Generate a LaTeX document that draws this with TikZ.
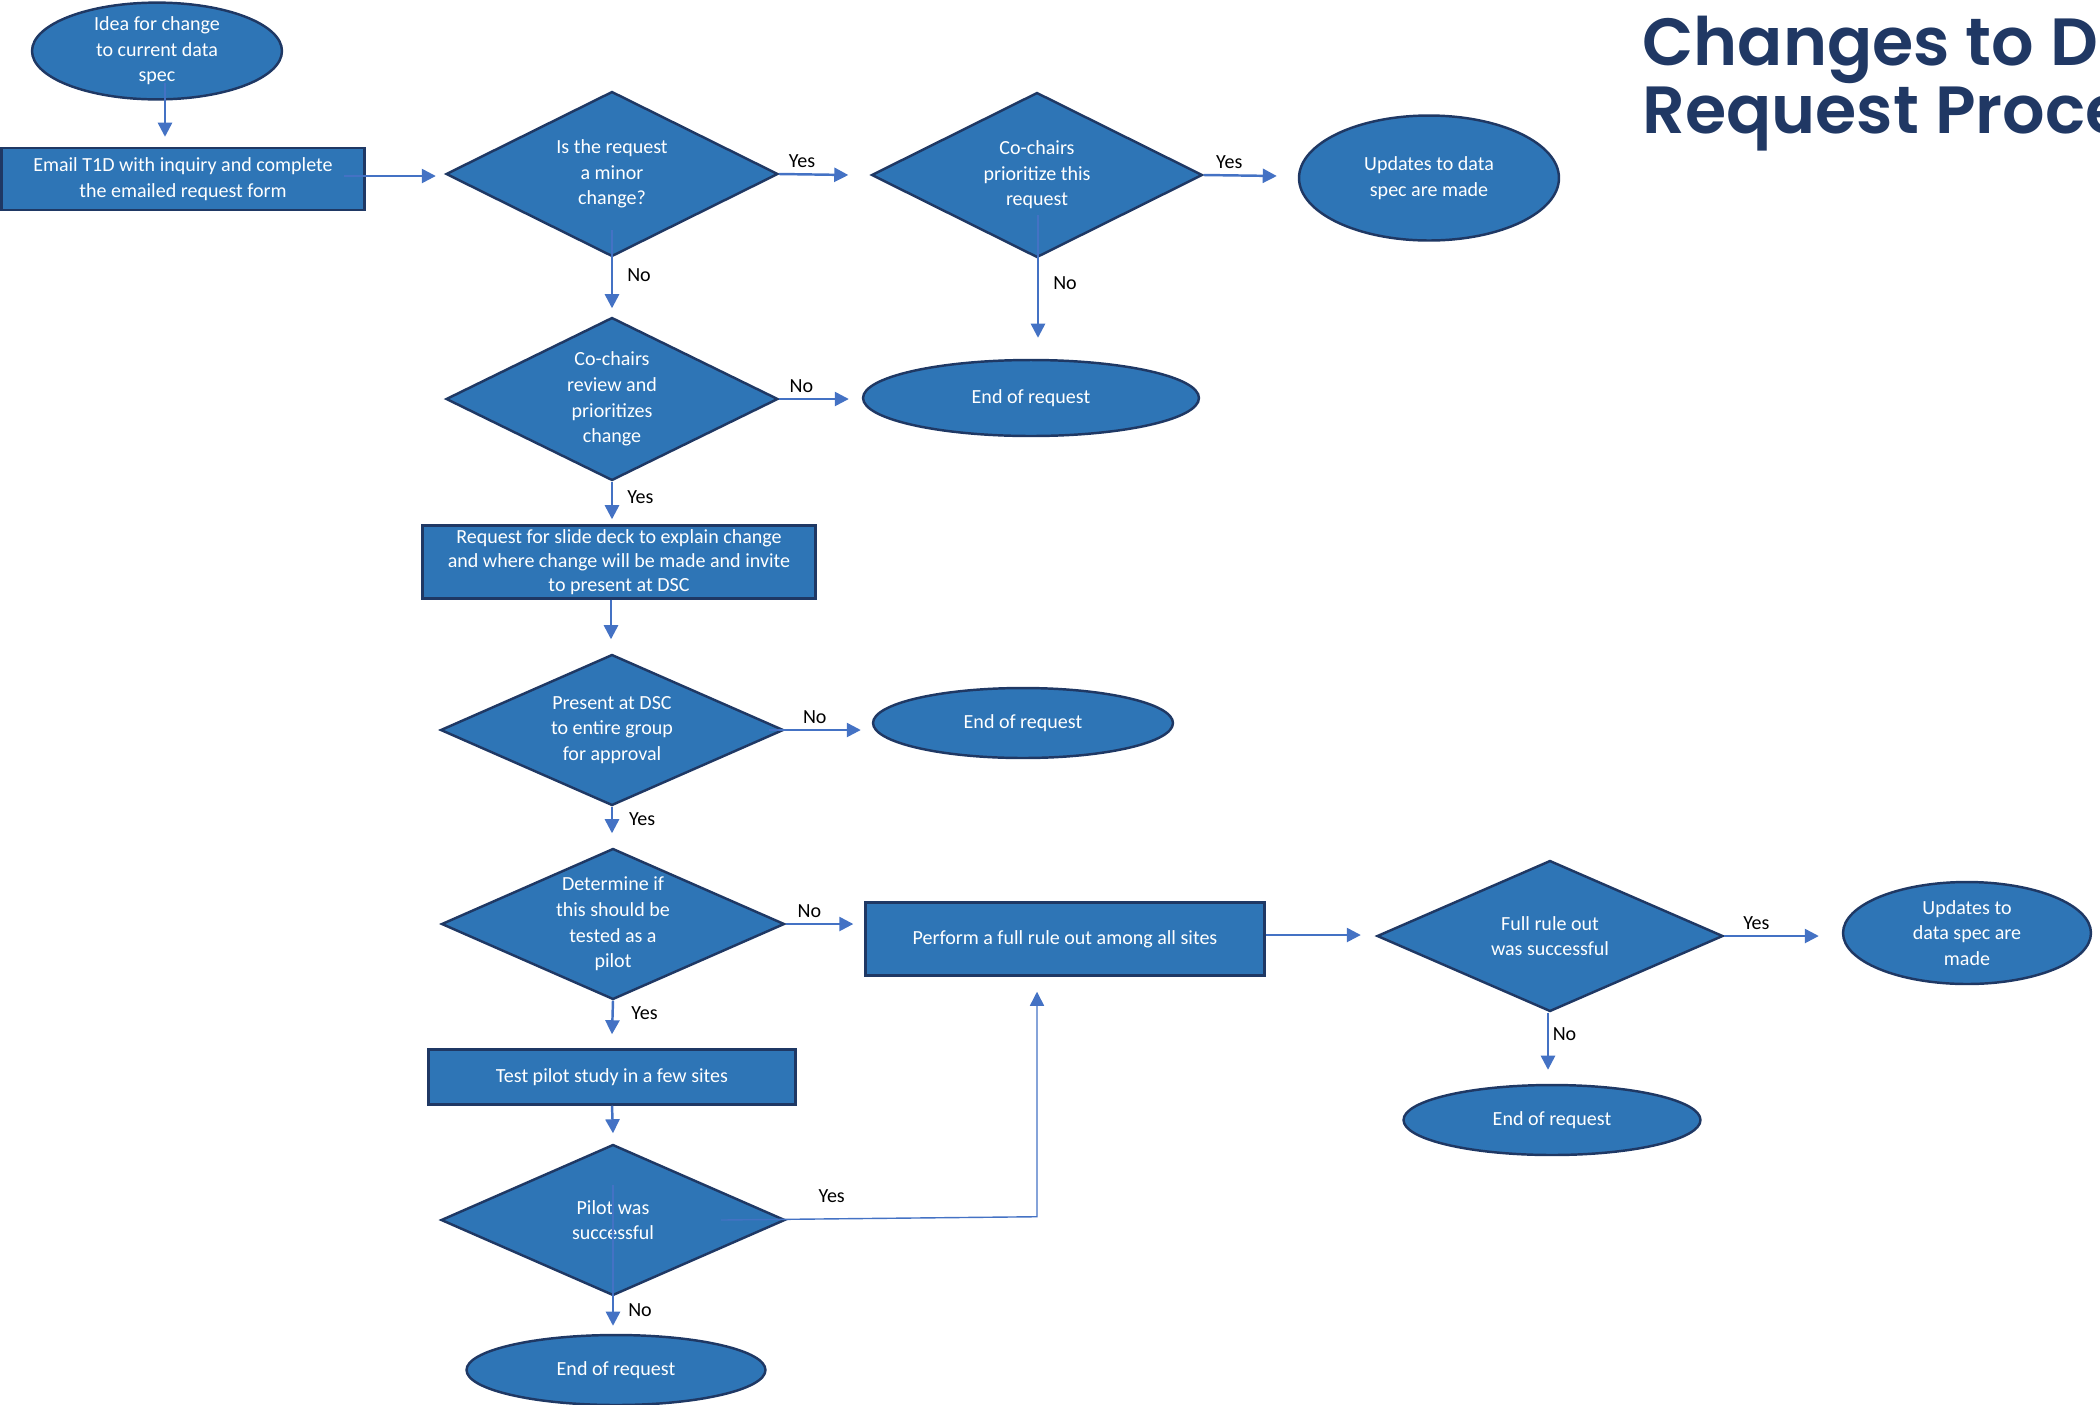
\documentclass[tikz,border=0pt]{standalone}
\usepackage{fontspec}
\setmainfont{Carlito}
\IfFontExistsTF{Poppins SemiBold}
  {\newfontfamily\titlefont{Poppins SemiBold}\newcommand\titleweight{}}
  {\newfontfamily\titlefont{Poppins}\newcommand\titleweight{\bfseries}}
\usetikzlibrary{positioning,arrows.meta,calc,shapes.geometric}
\definecolor{boxBlue}{HTML}{2E75B6}
\definecolor{edgeNavy}{HTML}{1F3864}
\definecolor{arrowBlue}{HTML}{4472C4}
\definecolor{titleNavy}{HTML}{203864}

\tikzset{
  flowtext/.style={text=white,font=\fontsize{11.4}{14.6}\selectfont,align=center,inner sep=0pt},
  decision/.style={diamond,aspect=2.2,draw=edgeNavy,fill=boxBlue,line width=1.4pt,flowtext},
  terminal/.style={ellipse,draw=edgeNavy,fill=boxBlue,line width=1.4pt,flowtext},
  process/.style={rectangle,draw=edgeNavy,fill=boxBlue,line width=1.4pt,flowtext},
  flow/.style={draw=arrowBlue,line width=1.4pt,-{Triangle[length=8pt,width=8pt]}},
  answer/.style={font=\fontsize{11.4}{13}\selectfont,text=black,inner sep=1pt},
  heading/.style={anchor=base west,inner sep=0pt,text=titleNavy,
    font=\titlefont\fontsize{38}{40}\selectfont\titleweight}
}

\begin{document}
\begin{tikzpicture}[x=0.02cm,y=-0.02cm]
\useasboundingbox (0,0) rectangle (2100,1404);
\clip (0,0) rectangle (2100,1404);

% title
\node[heading] (title) at (1642,65) {Changes to Data};
\node[heading] (title2) at (1642,133) {Request Process};

% first column
\node[terminal,minimum width=5cm,minimum height=1.88cm] (idea) at (157,51) {Idea for change\\to current data\\spec};
\node[process,minimum width=7.26cm,minimum height=1.24cm] (email) at (183,179) {Email T1D with inquiry and complete\\the emailed request form};
\node[decision,minimum width=6.64cm,minimum height=3.3cm] (minor) at (612,174) {Is the request\\a minor\\change?};
\node[decision,minimum width=6.64cm,minimum height=3.26cm] (review) at (612,399) {Co-chairs\\review and\\prioritizes\\change};
\node[process,minimum width=7.86cm,minimum height=1.46cm,font=\fontsize{11.4}{13.7}\selectfont] (slides) at (619,562) {Request for slide deck to explain change\\and where change will be made and invite\\to present at DSC};
\node[decision,minimum width=6.86cm,minimum height=3.02cm] (present) at (612,730) {Present at DSC\\to entire group\\for approval};
\node[decision,minimum width=6.86cm,minimum height=3.02cm] (pilotq) at (613,924) {Determine if\\this should be\\tested as a\\pilot};
\node[process,minimum width=7.34cm,minimum height=1.1cm] (test) at (612,1077) {Test pilot study in a few sites};
\node[decision,minimum width=6.88cm,minimum height=3.02cm] (pilotok) at (613,1220) {Pilot was\\successful};
\node[terminal,minimum width=5.98cm,minimum height=1.4cm] (end4) at (616,1370) {End of request};

% second column
\node[decision,minimum width=6.62cm,minimum height=3.3cm] (prior) at (1037,175) {Co-chairs\\prioritize this\\request};
\node[terminal,minimum width=6.72cm,minimum height=1.52cm] (end1) at (1031,398) {End of request};
\node[terminal,minimum width=6cm,minimum height=1.4cm] (end2) at (1023,723) {End of request};
\node[process,minimum width=7.98cm,minimum height=1.46cm] (fullrule) at (1065,939) {Perform a full rule out among all sites};

% right side
\node[terminal,minimum width=5.2cm,minimum height=2.5cm] (upd1) at (1429,178) {Updates to data\\spec are made};
\node[decision,minimum width=6.92cm,minimum height=3.02cm] (fullok) at (1550,936) {Full rule out\\was successful};
\node[terminal,minimum width=4.96cm,minimum height=2.04cm] (upd2) at (1967,933) {Updates to\\data spec are\\made};
\node[terminal,minimum width=5.94cm,minimum height=1.4cm] (end3) at (1552,1120) {End of request};

% connectors
\draw[flow] ($(idea.south)+(8,-18)$) -- ($(email.north)+(-18,-10)$);
\draw[flow] ($(email.east)+(-22,-3)$) -- ($(minor.west)+(-9,2)$);
\draw[flow] (minor.east) -- ($(prior.west)+(-22,0)$) node[answer,pos=0.33,above=2pt] {Yes};
\draw[flow] (prior.east) -- ($(upd1.west)+(-21,-2)$) node[answer,pos=0.35,above=2pt] {Yes};
\draw[flow] ($(minor.south)+(0,-28)$) -- ($(review.north)+(0,-8)$) node[answer,pos=0.58,right=7pt] {No};
\draw[flow] ($(prior.south)+(1,-44)$) -- ($(end1.north)+(7,-21)$) node[answer,pos=0.56,right=7pt] {No};
\draw[flow] (review.east) -- ($(end1.west)+(-13,1)$) node[answer,pos=0.32,above=2pt] {No};
\draw[flow] (review.south) -- ($(slides.north)+(-7,-5)$) node[answer,pos=0.41,right=7pt] {Yes};
\draw[flow] ($(slides.south)+(-8,0)$) -- ($(present.north)+(-1,-14)$);
\draw[flow] ($(present.east)+(-16,0)$) -- ($(end2.west)+(-11,7)$) node[answer,pos=0.5,above=2pt] {No};
\draw[flow] (present.south) -- ($(pilotq.north)+(-1,-14)$) node[answer,pos=0.45,right=8pt] {Yes};
\draw[flow] (pilotq.east) -- ($(fullrule.west)+(-11,-15)$) node[answer,pos=0.35,above=2pt] {No};
\draw[flow] (pilotq.south) -- ($(test.north)+(0,-14)$) node[answer,pos=0.36,right=9pt] {Yes};
\draw[flow] (test.south) -- ($(pilotok.north)+(0,-10)$);
\draw[flow] ($(pilotok.center)+(0,-35)$) -- ($(end4.north)+(-3,-8)$) node[answer,pos=0.89,right=7pt] {No};
\draw[flow,line width=0.8pt] ($(pilotok.east)+(-65,0)$) -- ($(fullrule.south)+(-28,240)$)
  node[answer,pos=0.35,above=8pt] {Yes} -- ($(fullrule.south)+(-28,15)$);
\draw[flow] ($(fullrule.east)+(0,-4)$) -- ($(fullok.west)+(-15,-1)$);
\draw[flow] (fullok.east) -- ($(upd2.west)+(-23,3)$) node[answer,pos=0.34,above=2pt] {Yes};
\draw[flow] ($(fullok.south)+(-2,0)$) -- ($(end3.north)+(-4,-14)$) node[answer,pos=0.37,right=1pt] {No};
\end{tikzpicture}
\end{document}
